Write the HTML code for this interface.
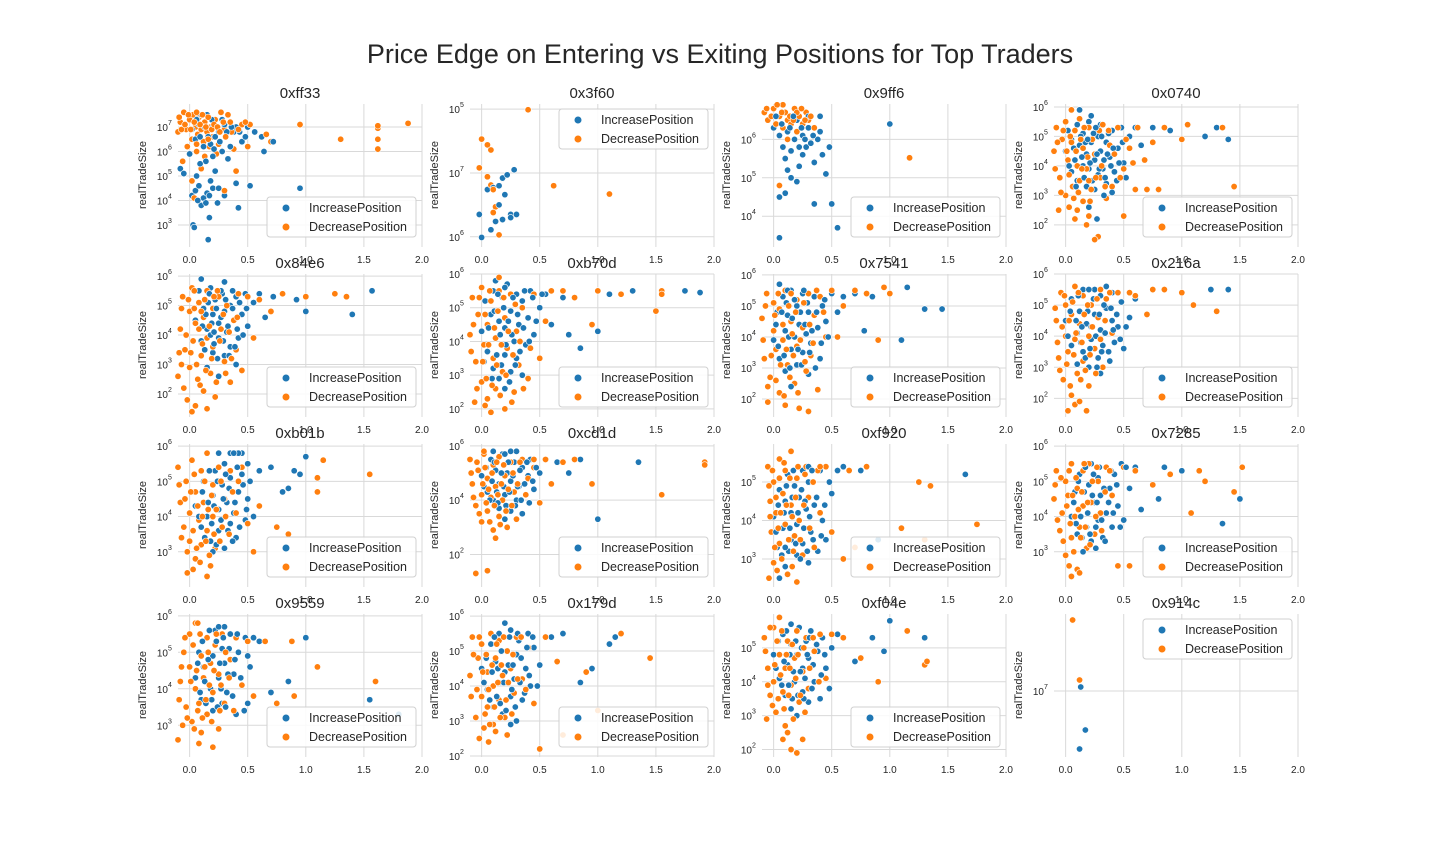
<!DOCTYPE html>
<html><head><meta charset="utf-8"><style>
html,body{margin:0;padding:0;background:#fff;width:1440px;height:864px;overflow:hidden;font-family:"Liberation Sans",Arial,sans-serif}
</style></head><body>
<svg id="fig" width="1440" height="864" viewBox="0 0 1440 864" xmlns="http://www.w3.org/2000/svg">
<rect width="1440" height="864" fill="#fff"/>
<text x="720" y="63" text-anchor="middle" font-size="27" fill="#262626" font-family="Liberation Sans, Arial, sans-serif">Price Edge on Entering vs Exiting Positions for Top Traders</text>
</svg>
<script>
const traders = ["0xff33","0x3f60","0x9ff6","0x0740","0x84e6","0xb70d","0x7541","0x216a","0xb01b","0xcd1d","0xf920","0x7285","0x9559","0x179d","0xf04e","0x914c"];
const yTopLog = [7.94,8.08,6.92,6.1,6.07,6.0,6.03,6.0,6.06,6.07,5.99,6.06,6.05,6.06,6.0,7.385];
const yBottomLog = [2.1,5.84,3.2,1.25,1.22,1.76,1.42,1.4,2.0,0.8,2.27,2.0,2.13,1.97,1.78,6.67];
const yTickVals = [[3,4,5,6,7],[8,7,6],[4,5,6],[2,3,4,5,6],[2,3,4,5,6],[2,3,4,5,6],[2,3,4,5,6],[2,3,4,5,6],[3,4,5,6],[2,4,6],[3,4,5],[3,4,5,6],[3,4,5,6],[2,3,4,5,6],[2,3,4,5],[7]];
const yTickLabels = [["3","4","5","6","7"],["5","7","6"],["4","5","6"],["2","3","4","5","6"],["2","3","4","5","6"],["2","3","4","5","6"],["2","3","4","5","6"],["2","3","4","5","6"],["3","4","5","6"],["2","4","6"],["3","4","5"],["3","4","5","6"],["3","4","5","6"],["2","3","4","5","6"],["2","3","4","5"],["7"]];
const xTicks = [0,0.5,1.0,1.5,2.0];
const xTickLabels = ["0.0","0.5","1.0","1.5","2.0"];
const legendUpper = [false,true,false,false,false,false,false,false,false,false,false,false,false,false,false,true];

const inc01=[[-0.08,5.3],[-0.05,5.1],[0.0,5.9],[0.02,4.2],[0.03,3.0],[0.04,2.9],[0.05,4.4],[0.06,5.0],[0.08,4.6],[0.1,3.8],[0.12,4.1],[0.14,3.9],[0.15,4.3],[0.16,2.4],[0.17,3.3],[0.18,4.8],[0.2,4.5],[0.22,5.2],[0.25,4.5],[0.28,6.0],[0.3,4.2],[0.33,5.7],[0.38,6.8],[0.4,4.7],[0.42,3.7],[0.5,7.0],[0.52,4.6],[0.56,6.8],[0.62,6.6],[0.64,6.0],[0.72,6.4],[0.95,4.5],[0.1,7.5],[0.15,7.5],[0.2,7.0],[0.05,6.5],[0.12,6.2],[0.25,6.8],[0.3,7.1],[0.18,6.3],[0.08,7.1],[0.35,6.2],[0.45,6.4],[0.28,7.3],[0.22,6.6],[0.4,7.0]];
const inc01m=[[0.02,6.9],[0.06,7.3],[0.09,6.6],[0.13,7.0],[0.16,6.6],[0.19,7.3],[0.21,6.1],[0.24,7.0],[0.26,6.4],[0.32,6.8],[0.36,7.0],[0.43,6.8],[0.48,6.6],[0.14,5.6],[0.09,5.5],[0.2,5.8],[0.17,4.2],[0.07,4.0],[0.24,3.9]];
const dec01=[[-0.1,6.8],[-0.08,7.2],[-0.05,7.6],[-0.03,6.9],[0.0,7.3],[0.02,6.5],[0.03,7.5],[0.05,7.0],[0.07,6.7],[0.08,7.4],[0.1,6.9],[0.12,6.4],[0.13,7.2],[0.15,6.8],[0.17,6.2],[0.18,7.0],[0.2,6.6],[0.22,7.3],[0.25,6.3],[0.27,7.6],[0.3,6.9],[0.33,7.5],[0.36,6.8],[0.38,6.1],[0.4,5.2],[0.45,7.1],[0.5,6.2],[0.52,7.1],[0.7,6.4],[0.66,6.7],[0.95,7.1],[1.3,6.5],[1.62,6.1],[1.62,6.5],[1.62,6.95],[1.62,7.05],[1.88,7.15],[-0.06,5.6],[0.04,4.1],[0.02,4.8],[0.13,5.8],[0.1,5.3],[-0.02,6.2],[0.06,6.0],[0.23,5.9],[0.3,4.4]];
const dec01m=[[-0.09,7.4],[-0.07,6.9],[-0.04,7.1],[-0.01,7.5],[0.01,6.9],[0.04,7.2],[0.06,7.6],[0.09,7.1],[0.11,7.5],[0.14,7.0],[0.16,7.4],[0.19,6.9],[0.21,7.1],[0.24,7.0],[0.26,6.8],[0.29,7.2],[0.31,6.6],[0.35,7.2],[0.42,6.9],[0.48,7.2],[0.06,6.3],[0.16,6.5]];
const inc02=[[0.0,5.99],[-0.02,6.35],[0.05,6.74],[0.1,6.77],[0.15,6.8],[0.18,6.92],[0.2,6.66],[0.25,6.35],[0.22,6.97],[0.28,7.05],[0.3,6.35],[0.15,6.5],[0.18,6.27],[0.12,6.24],[0.08,6.11],[0.25,6.3]];
const dec02=[[0.0,7.53],[0.05,6.94],[0.08,6.81],[0.1,6.74],[0.12,6.47],[0.1,6.38],[0.15,6.03],[0.4,7.99],[0.62,6.8],[1.1,6.67],[-0.02,7.08],[0.05,7.44],[0.08,7.36]];
const inc03=[[0.0,6.3],[0.05,6.1],[0.08,5.8],[0.1,5.5],[0.12,6.2],[0.15,5.7],[0.18,6.0],[0.2,6.5],[0.22,5.3],[0.25,6.1],[0.28,5.8],[0.3,6.3],[0.32,5.9],[0.35,5.4],[0.38,6.0],[0.4,6.2],[0.42,5.6],[0.45,5.1],[0.2,4.9],[0.15,5.0],[0.1,4.6],[0.05,4.5],[0.05,3.44],[0.35,4.32],[0.5,4.32],[0.55,3.7],[1.0,6.4],[0.25,5.6],[0.3,6.6],[0.12,5.2],[0.4,6.6],[0.48,5.8]];
const inc03m=[[0.02,6.6],[0.07,6.4],[0.14,6.3],[0.17,6.6],[0.24,6.3],[0.27,6.0],[0.34,6.1],[0.22,5.8]];
const dec03=[[-0.08,6.7],[-0.05,6.5],[-0.02,6.6],[0.0,6.8],[0.02,6.4],[0.05,6.6],[0.08,6.3],[0.1,6.7],[0.12,6.5],[0.15,6.4],[0.18,6.8],[0.2,6.2],[0.22,6.6],[0.25,6.4],[0.28,6.7],[0.3,6.5],[0.35,6.3],[0.05,4.8],[0.12,6.0],[1.17,5.52],[0.08,6.9],[0.2,6.7]];
const dec03m=[[-0.06,6.8],[0.03,6.9],[0.07,6.7],[0.14,6.6],[0.17,6.5],[0.24,6.8],[0.27,6.5],[0.32,6.6]];
const inc04=[[0.0,4.5],[0.02,5.2],[0.05,3.8],[0.05,4.9],[0.08,4.2],[0.1,5.4],[0.1,3.5],[0.12,4.7],[0.15,4.0],[0.15,5.1],[0.18,3.3],[0.18,4.4],[0.2,5.5],[0.2,3.9],[0.22,4.8],[0.25,4.2],[0.25,3.2],[0.28,5.0],[0.28,3.7],[0.3,4.5],[0.3,5.4],[0.32,3.9],[0.35,4.8],[0.35,3.4],[0.38,4.3],[0.4,5.2],[0.42,3.8],[0.45,4.6],[0.48,5.3],[0.5,4.1],[0.55,5.0],[0.6,5.3],[0.65,4.7],[0.75,5.3],[0.9,5.2],[1.2,5.0],[1.3,5.3],[1.4,4.9],[0.27,2.2],[0.2,2.6],[0.12,5.9],[0.4,3.1],[0.22,5.7],[0.33,3.0]];
const inc04m=[[0.03,4.0],[0.07,4.6],[0.09,3.3],[0.13,5.0],[0.16,3.6],[0.17,4.8],[0.21,4.1],[0.23,3.5],[0.24,5.1],[0.27,4.4],[0.29,3.9],[0.31,5.0],[0.33,4.2],[0.34,3.6],[0.37,5.1],[0.39,4.0],[0.41,4.6],[0.44,3.5],[0.46,4.1],[0.49,4.8],[0.52,3.6],[0.26,5.3],[0.14,4.3],[0.19,4.9],[0.36,4.4]];
const dec04=[[-0.1,4.5],[-0.08,5.3],[-0.05,3.6],[-0.03,4.9],[0.0,3.0],[0.0,5.5],[0.02,4.2],[0.03,2.6],[0.05,4.8],[0.06,3.3],[0.08,5.2],[0.08,2.2],[0.1,4.0],[0.12,3.5],[0.12,5.6],[0.15,2.8],[0.15,4.6],[0.18,3.9],[0.2,5.3],[0.2,2.3],[0.22,3.2],[0.25,4.4],[0.28,1.6],[0.3,3.6],[0.32,5.4],[0.35,2.9],[0.38,4.7],[0.4,3.3],[0.45,5.3],[0.5,3.9],[0.55,4.6],[0.6,3.2],[0.62,5.3],[0.68,4.2],[0.7,3.2],[0.75,4.8],[0.8,3.2],[0.85,5.3],[1.0,4.9],[1.05,5.4],[1.35,5.3],[1.45,3.3],[0.05,5.9],[0.25,1.5],[-0.06,2.5],[0.18,2.0],[0.5,2.3]];
const dec04m=[[-0.09,3.9],[-0.07,4.8],[-0.04,3.1],[-0.02,5.2],[0.01,4.5],[0.03,3.7],[0.04,5.0],[0.07,2.9],[0.09,4.5],[0.11,3.1],[0.13,4.9],[0.14,3.9],[0.16,5.3],[0.19,4.3],[0.21,2.8],[0.23,4.9],[0.26,3.6],[0.29,5.2],[0.31,4.0],[0.34,3.3],[0.37,5.2],[0.42,4.4],[0.47,3.6],[0.52,4.9],[0.58,4.1],[0.1,2.5],[0.2,3.5]];
const inc05=[[0.05,4.5],[0.08,5.5],[0.1,3.8],[0.12,4.9],[0.15,4.2],[0.18,5.6],[0.2,3.4],[0.2,4.7],[0.22,5.2],[0.25,3.9],[0.25,4.4],[0.28,5.4],[0.3,3.3],[0.3,4.8],[0.32,4.1],[0.35,5.0],[0.35,3.6],[0.38,4.5],[0.4,5.3],[0.42,3.9],[0.45,4.7],[0.48,5.4],[0.5,4.3],[0.55,5.1],[0.6,5.4],[0.65,4.6],[0.72,5.3],[0.8,5.4],[0.92,5.2],[1.0,4.8],[1.4,4.7],[1.57,5.5],[0.15,2.9],[0.25,2.6],[0.4,3.0],[0.3,5.8],[0.1,5.9],[0.18,4.0]];
const inc05m=[[0.11,4.3],[0.13,3.5],[0.16,5.1],[0.19,4.4],[0.21,3.7],[0.23,4.9],[0.24,3.2],[0.27,4.6],[0.29,3.8],[0.31,5.2],[0.33,4.3],[0.34,3.3],[0.37,4.9],[0.39,3.6],[0.41,4.2],[0.43,5.1],[0.46,4.0],[0.49,4.9],[0.17,5.4],[0.27,5.5],[0.37,5.5],[0.21,4.1],[0.14,4.7]];
const dec05=[[-0.1,2.6],[-0.08,4.2],[-0.06,5.3],[-0.04,3.5],[-0.02,1.8],[0.0,4.8],[0.0,2.9],[0.02,5.6],[0.03,3.8],[0.05,1.6],[0.05,4.4],[0.07,2.5],[0.08,5.1],[0.1,3.3],[0.12,4.6],[0.12,2.1],[0.15,5.5],[0.15,3.9],[0.18,2.7],[0.2,4.9],[0.2,3.6],[0.22,1.9],[0.25,5.3],[0.27,4.2],[0.3,3.1],[0.32,5.0],[0.35,2.4],[0.38,4.5],[0.4,3.5],[0.42,5.4],[0.45,2.8],[0.5,5.3],[0.55,3.9],[0.6,5.2],[0.7,4.8],[0.8,5.4],[1.0,5.3],[1.35,5.3],[1.25,5.4],[0.02,1.4],[0.15,1.5],[-0.07,3.0]];
const dec05m=[[-0.09,3.4],[-0.07,4.9],[-0.05,2.2],[-0.03,4.0],[-0.01,5.2],[0.01,3.4],[0.04,4.9],[0.06,3.0],[0.08,4.2],[0.09,2.3],[0.11,3.7],[0.13,5.2],[0.14,2.8],[0.17,4.3],[0.19,3.2],[0.21,5.3],[0.23,2.4],[0.26,3.8],[0.29,4.7],[0.31,2.7],[0.34,4.1],[0.36,3.2],[0.41,4.6],[0.04,5.5],[0.24,5.5],[0.1,4.8]];
const inc06=[[0.0,4.3],[0.03,5.2],[0.05,3.7],[0.08,4.8],[0.1,3.2],[0.1,5.5],[0.12,4.1],[0.15,4.6],[0.15,2.9],[0.18,5.3],[0.2,3.6],[0.2,4.4],[0.22,5.7],[0.25,3.1],[0.25,4.9],[0.28,4.0],[0.3,5.4],[0.3,3.5],[0.32,4.5],[0.35,5.2],[0.38,3.9],[0.4,4.7],[0.42,5.5],[0.45,4.2],[0.5,5.0],[0.55,5.4],[0.6,4.5],[0.7,5.3],[0.75,4.2],[0.85,3.8],[1.0,4.3],[1.1,5.4],[1.3,5.5],[1.75,5.5],[1.88,5.45],[0.2,2.6],[0.35,3.0],[0.12,5.8]];
const inc06m=[[0.02,3.4],[0.06,4.4],[0.09,2.9],[0.11,4.9],[0.13,3.6],[0.16,4.2],[0.17,3.3],[0.19,5.0],[0.21,3.9],[0.23,4.6],[0.24,2.8],[0.26,4.2],[0.27,5.3],[0.29,3.3],[0.31,4.8],[0.33,3.7],[0.36,4.4],[0.37,5.5],[0.41,4.0],[0.44,5.3],[0.47,4.6],[0.52,5.4],[0.14,5.4],[0.2,5.6]];
const dec06=[[-0.1,4.2],[-0.08,5.3],[-0.05,3.4],[-0.03,4.8],[0.0,2.8],[0.0,5.6],[0.02,3.9],[0.05,4.5],[0.05,2.3],[0.08,5.2],[0.1,3.5],[0.12,4.1],[0.12,2.6],[0.15,5.5],[0.18,3.1],[0.2,4.7],[0.2,2.0],[0.22,3.8],[0.25,5.4],[0.28,2.5],[0.3,4.3],[0.32,3.3],[0.35,5.0],[0.4,2.9],[0.45,5.4],[0.5,3.5],[0.55,4.6],[0.6,5.5],[0.7,5.5],[0.8,5.3],[0.95,4.5],[1.0,5.5],[1.2,5.4],[1.5,4.9],[1.55,5.5],[1.55,5.4],[0.08,1.9],[-0.06,2.2],[0.15,5.9]];
const dec06m=[[-0.09,3.7],[-0.07,4.5],[-0.04,2.6],[-0.02,5.3],[0.01,3.4],[0.03,4.8],[0.04,2.9],[0.06,3.9],[0.07,5.5],[0.09,2.7],[0.11,4.4],[0.13,3.3],[0.14,4.9],[0.16,2.4],[0.17,3.9],[0.19,5.3],[0.21,3.0],[0.23,4.3],[0.26,2.2],[0.27,3.6],[0.29,5.1],[0.33,4.0],[0.36,2.6],[0.42,3.8],[0.03,2.1]];
const inc07=[[0.0,3.9],[0.03,4.8],[0.05,3.3],[0.08,5.3],[0.1,4.2],[0.1,2.9],[0.12,4.7],[0.15,3.6],[0.15,5.5],[0.18,4.0],[0.2,3.1],[0.2,5.0],[0.22,4.4],[0.25,3.5],[0.25,5.4],[0.28,4.1],[0.3,2.8],[0.3,4.8],[0.32,3.8],[0.35,5.3],[0.38,4.3],[0.4,3.3],[0.42,5.0],[0.45,4.5],[0.5,5.4],[0.55,4.8],[0.6,5.3],[0.7,5.4],[0.78,4.2],[0.85,5.3],[1.1,3.9],[1.15,5.6],[1.3,4.9],[1.45,4.9],[0.15,2.4],[0.05,5.7]];
const inc07m=[[0.02,4.4],[0.04,3.7],[0.07,4.8],[0.09,3.4],[0.11,5.1],[0.13,4.0],[0.14,3.0],[0.16,4.6],[0.18,5.2],[0.21,3.6],[0.23,4.8],[0.24,3.1],[0.27,4.4],[0.29,5.1],[0.31,3.5],[0.33,4.2],[0.36,3.0],[0.37,4.8],[0.41,3.8],[0.44,5.2],[0.47,4.0],[0.12,5.5],[0.26,5.5]];
const dec07=[[-0.1,4.6],[-0.08,3.3],[-0.06,5.4],[-0.03,2.7],[0.0,4.2],[0.0,5.1],[0.02,3.6],[0.05,2.2],[0.05,4.9],[0.08,3.9],[0.1,5.5],[0.1,1.8],[0.12,3.1],[0.15,4.5],[0.18,2.5],[0.2,5.2],[0.2,3.7],[0.22,1.7],[0.25,4.3],[0.28,2.9],[0.3,5.4],[0.32,3.4],[0.35,4.7],[0.38,2.3],[0.4,5.3],[0.45,4.0],[0.5,5.5],[0.55,4.0],[0.6,5.0],[0.7,5.5],[0.8,5.4],[0.9,3.9],[0.95,5.6],[1.0,5.4],[-0.05,1.9],[0.3,1.6]];
const dec07m=[[-0.09,3.9],[-0.07,5.0],[-0.05,2.4],[-0.02,3.4],[0.01,4.7],[0.02,2.6],[0.04,5.4],[0.06,3.1],[0.08,4.4],[0.09,2.1],[0.11,3.6],[0.13,5.0],[0.14,2.7],[0.16,4.1],[0.17,3.4],[0.19,4.8],[0.21,2.2],[0.23,3.9],[0.26,5.1],[0.27,3.2],[0.31,4.4],[0.34,3.8],[0.37,5.5],[0.43,4.8],[0.15,5.4]];
const inc08=[[0.0,4.5],[0.05,3.7],[0.05,5.2],[0.1,4.1],[0.1,3.1],[0.12,4.8],[0.15,5.5],[0.15,3.5],[0.18,4.4],[0.2,3.0],[0.2,5.0],[0.22,3.9],[0.25,4.7],[0.25,5.5],[0.28,3.3],[0.3,4.2],[0.3,5.3],[0.32,3.7],[0.35,4.9],[0.38,3.2],[0.4,4.5],[0.4,5.4],[0.42,3.8],[0.45,4.3],[0.48,5.1],[0.5,3.6],[0.55,4.6],[0.6,5.2],[1.25,5.5],[1.4,5.5],[0.3,2.8],[0.35,5.6]];
const inc08m=[[0.02,4.0],[0.04,4.8],[0.07,3.4],[0.09,4.5],[0.11,5.3],[0.13,3.8],[0.14,4.3],[0.17,3.3],[0.19,4.8],[0.21,3.6],[0.22,4.3],[0.24,5.2],[0.26,4.0],[0.27,3.0],[0.29,4.7],[0.31,3.5],[0.33,5.0],[0.34,4.1],[0.37,3.5],[0.39,4.9],[0.41,4.2],[0.44,4.7],[0.47,3.9],[0.52,4.3],[0.2,5.5]];
const dec08=[[-0.08,4.5],[-0.06,3.3],[-0.04,5.4],[-0.02,2.6],[0.0,4.0],[0.0,5.0],[0.02,3.5],[0.05,2.1],[0.05,4.7],[0.08,3.9],[0.08,5.6],[0.1,2.8],[0.12,4.4],[0.15,3.2],[0.15,5.3],[0.18,1.6],[0.2,4.0],[0.2,2.4],[0.22,5.0],[0.25,3.6],[0.28,4.6],[0.3,5.5],[0.32,3.0],[0.35,5.2],[0.4,4.1],[0.45,5.4],[0.55,5.4],[0.6,5.3],[0.7,4.7],[0.75,5.5],[0.85,5.5],[1.0,5.4],[1.1,5.0],[1.3,4.8],[0.08,1.8],[0.02,1.6]];
const dec08m=[[-0.09,4.9],[-0.07,3.8],[-0.05,2.9],[-0.03,4.3],[-0.01,5.3],[0.01,3.1],[0.03,4.5],[0.04,2.4],[0.06,5.1],[0.07,3.4],[0.09,4.1],[0.11,5.4],[0.13,2.6],[0.14,3.8],[0.16,4.7],[0.17,2.9],[0.19,5.0],[0.21,3.4],[0.23,4.3],[0.26,2.8],[0.27,5.2],[0.3,3.9],[0.34,4.5],[0.38,5.4],[0.12,1.9]];
const inc09=[[0.05,4.3],[0.1,3.7],[0.12,5.0],[0.15,4.0],[0.18,3.3],[0.2,4.6],[0.22,5.3],[0.25,3.6],[0.25,4.2],[0.28,4.9],[0.3,3.1],[0.3,5.5],[0.32,4.4],[0.35,3.8],[0.35,5.1],[0.38,4.1],[0.4,5.8],[0.4,3.4],[0.42,4.7],[0.45,5.2],[0.48,3.9],[0.5,4.5],[0.5,5.5],[0.55,4.0],[0.6,5.3],[0.7,5.4],[0.8,4.7],[0.85,4.8],[0.9,5.3],[0.95,5.2],[1.0,5.7],[0.2,3.0],[0.35,5.8],[0.45,5.8]];
const inc09m=[[0.08,4.0],[0.11,4.7],[0.13,3.4],[0.16,4.4],[0.17,5.3],[0.19,3.8],[0.21,4.3],[0.23,3.2],[0.24,5.0],[0.27,3.9],[0.29,4.5],[0.31,5.2],[0.33,3.6],[0.34,4.8],[0.37,3.3],[0.39,4.4],[0.41,5.4],[0.43,3.7],[0.46,4.9],[0.49,4.2],[0.52,5.0],[0.42,5.8],[0.38,5.8],[0.25,5.8]];
const dec09=[[-0.1,5.4],[-0.08,4.4],[-0.05,3.7],[-0.03,5.0],[0.0,4.1],[0.0,3.3],[0.02,5.6],[0.05,4.7],[0.05,2.8],[0.08,3.9],[0.1,5.3],[0.1,3.2],[0.12,4.4],[0.15,3.6],[0.15,5.8],[0.18,2.6],[0.2,4.9],[0.2,4.0],[0.22,3.1],[0.25,5.4],[0.28,3.7],[0.3,4.5],[0.35,5.3],[0.4,4.1],[0.45,5.4],[0.5,3.8],[0.6,4.3],[0.75,3.7],[0.85,3.5],[1.1,5.1],[1.1,4.7],[1.15,5.6],[1.55,5.2],[-0.02,2.4],[0.15,2.3],[0.55,3.0]];
const dec09m=[[-0.09,4.9],[-0.07,3.4],[-0.04,4.5],[-0.02,3.0],[0.01,4.7],[0.03,3.6],[0.04,5.2],[0.06,3.1],[0.07,4.3],[0.09,2.7],[0.11,4.0],[0.13,5.0],[0.14,3.3],[0.16,4.2],[0.17,2.9],[0.19,4.6],[0.21,3.5],[0.23,4.2],[0.26,3.3],[0.27,5.0],[0.31,4.0],[0.34,3.5],[0.37,4.7],[0.42,5.0],[0.03,2.5]];
const inc10=[[0.0,4.9],[0.05,4.3],[0.08,5.5],[0.1,4.0],[0.12,5.1],[0.15,3.7],[0.15,4.6],[0.18,5.7],[0.2,4.2],[0.22,5.0],[0.25,3.6],[0.25,4.7],[0.28,5.4],[0.3,4.0],[0.3,5.8],[0.32,4.5],[0.35,3.5],[0.35,5.2],[0.38,4.2],[0.4,4.9],[0.42,5.5],[0.45,4.4],[0.5,5.0],[0.55,5.5],[0.65,5.4],[0.75,5.0],[0.85,5.5],[1.0,3.3],[1.35,5.4],[0.2,3.3],[0.1,5.8]];
const inc10m=[[0.02,4.5],[0.04,5.2],[0.07,4.0],[0.09,4.7],[0.11,5.4],[0.13,4.3],[0.14,3.9],[0.17,5.0],[0.19,4.5],[0.21,3.8],[0.23,5.4],[0.24,4.3],[0.27,4.9],[0.29,3.8],[0.31,4.5],[0.33,5.1],[0.34,4.0],[0.37,4.6],[0.39,5.4],[0.41,3.9],[0.44,4.7],[0.47,5.2],[0.25,5.8],[0.2,5.7]];
const dec10=[[-0.1,5.5],[-0.08,4.6],[-0.05,3.8],[-0.03,5.1],[0.0,4.2],[0.0,3.2],[0.02,5.7],[0.05,4.8],[0.05,3.6],[0.08,4.1],[0.1,5.3],[0.1,2.9],[0.12,4.5],[0.15,3.4],[0.15,5.6],[0.18,4.0],[0.2,4.9],[0.22,3.0],[0.25,5.4],[0.28,4.3],[0.3,3.3],[0.35,5.5],[0.4,4.8],[0.45,5.2],[0.5,3.9],[0.55,5.5],[0.6,4.6],[0.7,5.4],[0.8,5.5],[0.95,4.6],[1.55,4.2],[1.92,5.4],[1.92,5.3],[0.05,1.4],[-0.05,1.3],[0.12,2.6]];
const dec10m=[[-0.09,5.0],[-0.07,4.1],[-0.04,5.4],[-0.02,3.5],[0.01,4.6],[0.03,5.2],[0.04,3.9],[0.06,4.4],[0.07,3.2],[0.09,5.0],[0.11,3.8],[0.13,5.4],[0.14,4.2],[0.16,3.1],[0.17,4.6],[0.19,5.3],[0.21,3.6],[0.23,4.4],[0.26,3.8],[0.27,5.0],[0.31,4.6],[0.33,5.4],[0.38,4.2],[0.45,5.5],[0.02,5.8]];
const inc11=[[0.0,4.1],[0.03,3.3],[0.05,4.8],[0.08,3.8],[0.1,2.8],[0.1,4.5],[0.12,5.2],[0.15,3.5],[0.15,4.2],[0.18,4.9],[0.2,3.1],[0.2,3.9],[0.22,4.6],[0.25,5.3],[0.25,3.4],[0.28,4.3],[0.3,2.9],[0.3,5.0],[0.32,3.7],[0.35,4.4],[0.38,3.2],[0.4,5.3],[0.42,4.0],[0.45,3.5],[0.5,4.7],[0.55,5.3],[0.6,5.4],[0.75,5.3],[0.9,3.5],[1.65,5.2],[0.05,2.5],[0.3,5.4]];
const inc11m=[[0.02,3.7],[0.04,4.4],[0.07,3.1],[0.09,4.2],[0.11,4.9],[0.13,3.2],[0.14,3.8],[0.16,4.6],[0.17,5.3],[0.19,3.4],[0.21,4.2],[0.23,3.0],[0.24,4.8],[0.26,3.8],[0.27,4.5],[0.29,3.2],[0.31,4.1],[0.33,5.3],[0.34,3.5],[0.37,4.6],[0.41,3.6],[0.44,4.4],[0.48,5.0],[0.1,3.3]];
const dec11=[[-0.05,5.4],[-0.03,4.5],[-0.02,3.7],[0.0,5.0],[0.0,2.9],[0.02,4.2],[0.05,5.6],[0.05,3.4],[0.08,4.7],[0.1,3.9],[0.1,5.3],[0.12,2.6],[0.15,4.4],[0.15,5.8],[0.18,3.6],[0.2,5.1],[0.22,4.0],[0.25,3.1],[0.28,5.4],[0.3,4.6],[0.35,3.3],[0.38,5.3],[0.4,4.2],[0.45,5.4],[0.5,3.7],[0.6,3.0],[0.65,5.3],[0.7,3.3],[0.8,5.4],[1.1,3.8],[1.25,5.0],[1.3,3.5],[1.35,4.9],[1.75,3.9],[-0.04,2.5],[0.2,2.4]];
const dec11m=[[-0.04,4.9],[-0.03,4.1],[-0.01,5.3],[0.01,3.3],[0.02,4.6],[0.04,3.8],[0.05,5.1],[0.06,4.2],[0.07,3.0],[0.09,5.5],[0.11,4.4],[0.13,3.5],[0.14,5.1],[0.16,4.1],[0.17,3.2],[0.19,4.6],[0.21,5.4],[0.23,3.5],[0.26,4.4],[0.27,5.2],[0.31,3.8],[0.34,5.0],[0.4,5.4],[0.03,2.7],[0.16,2.8]];
const inc12=[[0.05,4.0],[0.08,4.7],[0.1,3.5],[0.12,5.2],[0.15,4.3],[0.18,3.7],[0.2,4.9],[0.22,5.5],[0.22,3.3],[0.25,4.4],[0.28,3.9],[0.28,5.1],[0.3,4.6],[0.32,3.4],[0.35,5.4],[0.35,4.1],[0.38,4.8],[0.4,3.7],[0.42,5.2],[0.45,4.3],[0.48,5.5],[0.5,3.9],[0.55,4.8],[0.6,5.4],[0.65,4.2],[0.8,4.5],[0.85,5.4],[1.0,5.3],[1.35,3.8],[1.5,4.5],[0.15,3.0]];
const inc12m=[[0.07,4.4],[0.09,3.8],[0.11,5.0],[0.13,4.0],[0.14,3.4],[0.16,4.7],[0.17,5.4],[0.19,4.1],[0.21,3.5],[0.23,4.6],[0.24,5.2],[0.26,3.7],[0.27,4.4],[0.29,5.4],[0.31,3.9],[0.33,4.8],[0.34,3.3],[0.37,4.4],[0.39,5.3],[0.41,4.1],[0.44,4.9],[0.47,3.7],[0.52,5.4],[0.26,3.1]];
const dec12=[[-0.1,4.5],[-0.08,5.3],[-0.05,3.6],[-0.03,4.1],[0.0,5.0],[0.0,2.9],[0.02,4.6],[0.05,3.4],[0.05,5.5],[0.08,4.0],[0.1,2.5],[0.1,4.8],[0.12,3.7],[0.15,5.3],[0.15,4.3],[0.18,3.1],[0.2,5.5],[0.22,4.4],[0.25,3.5],[0.28,5.0],[0.3,4.1],[0.35,5.4],[0.4,4.6],[0.45,2.6],[0.5,5.4],[0.55,2.6],[0.6,5.3],[0.75,4.9],[0.9,5.2],[1.08,4.1],[1.15,5.3],[1.2,5.0],[1.45,4.7],[1.52,5.4],[0.05,2.3],[0.12,2.4]];
const dec12m=[[-0.09,4.9],[-0.07,3.9],[-0.04,5.1],[-0.02,3.3],[0.01,4.3],[0.03,5.3],[0.04,3.8],[0.06,4.6],[0.07,3.0],[0.09,5.1],[0.11,4.2],[0.13,3.4],[0.14,4.7],[0.16,5.5],[0.17,3.7],[0.19,4.4],[0.21,3.2],[0.23,5.0],[0.26,4.0],[0.27,5.4],[0.31,3.6],[0.34,4.7],[0.38,5.3],[0.03,2.6]];
const inc13=[[0.05,4.3],[0.08,5.0],[0.1,3.7],[0.12,4.6],[0.15,5.4],[0.18,4.0],[0.2,3.4],[0.2,4.9],[0.22,5.6],[0.25,4.3],[0.28,3.6],[0.28,5.1],[0.3,4.7],[0.32,3.9],[0.35,5.5],[0.38,4.4],[0.4,3.3],[0.42,5.0],[0.45,4.1],[0.48,5.4],[0.5,3.6],[0.52,4.6],[0.55,5.4],[0.6,5.3],[0.7,3.9],[0.85,4.2],[1.0,5.4],[1.55,3.7],[1.8,3.3],[0.3,5.7]];
const inc13m=[[0.07,4.7],[0.09,3.9],[0.11,5.3],[0.13,4.2],[0.14,3.6],[0.16,4.8],[0.17,5.6],[0.19,3.7],[0.21,4.5],[0.23,5.3],[0.24,3.5],[0.26,4.7],[0.27,4.0],[0.29,5.4],[0.31,3.5],[0.33,4.4],[0.34,5.1],[0.37,3.8],[0.39,4.8],[0.41,5.5],[0.44,4.3],[0.47,3.4],[0.5,4.9],[0.25,5.7]];
const dec13=[[-0.1,2.6],[-0.08,4.2],[-0.05,5.0],[-0.03,3.5],[0.0,4.6],[0.0,5.5],[0.02,3.1],[0.05,4.0],[0.05,5.8],[0.08,3.6],[0.1,4.9],[0.1,2.8],[0.12,4.3],[0.15,5.4],[0.15,3.3],[0.18,4.7],[0.2,3.9],[0.22,5.2],[0.25,2.9],[0.25,4.4],[0.28,5.5],[0.3,3.6],[0.35,4.8],[0.4,5.4],[0.45,4.1],[0.5,5.3],[0.55,3.8],[0.65,5.3],[0.75,3.6],[0.88,5.3],[0.9,3.8],[1.1,4.6],[1.6,4.2],[0.08,2.5],[0.2,2.4],[-0.06,3.0]];
const dec13m=[[-0.09,3.7],[-0.07,4.6],[-0.04,5.4],[-0.02,3.2],[0.01,4.2],[0.03,5.2],[0.04,2.9],[0.06,4.5],[0.07,3.4],[0.09,5.5],[0.11,3.2],[0.13,4.6],[0.14,3.7],[0.16,5.0],[0.17,4.1],[0.19,3.1],[0.21,4.5],[0.23,5.5],[0.26,3.4],[0.27,4.1],[0.31,5.0],[0.34,4.3],[0.38,3.4],[0.07,5.8]];
const inc14=[[0.0,4.5],[0.05,3.9],[0.08,5.2],[0.1,3.4],[0.12,4.7],[0.15,4.1],[0.15,5.5],[0.18,3.2],[0.2,4.4],[0.22,5.0],[0.25,3.7],[0.25,5.6],[0.28,4.2],[0.3,3.0],[0.3,4.9],[0.32,5.3],[0.35,3.6],[0.38,4.5],[0.4,5.5],[0.42,4.0],[0.45,5.1],[0.5,4.6],[0.55,5.4],[0.6,5.4],[0.7,5.5],[0.85,4.1],[0.95,4.5],[1.1,5.2],[1.15,5.4],[0.2,5.8]];
const inc14m=[[0.02,4.1],[0.04,4.8],[0.07,3.6],[0.09,4.4],[0.11,5.4],[0.13,3.7],[0.14,4.5],[0.16,3.5],[0.17,5.0],[0.19,4.1],[0.21,3.3],[0.23,4.6],[0.24,5.4],[0.26,3.9],[0.27,4.6],[0.29,3.4],[0.31,5.5],[0.33,4.1],[0.34,4.8],[0.37,3.8],[0.39,5.1],[0.41,4.3],[0.44,5.4],[0.48,4.0],[0.25,2.9]];
const dec14=[[-0.1,4.3],[-0.08,5.4],[-0.05,3.1],[-0.03,4.8],[0.0,3.7],[0.0,5.2],[0.02,2.8],[0.05,4.4],[0.05,3.4],[0.08,5.5],[0.1,4.0],[0.1,2.9],[0.12,4.8],[0.15,3.6],[0.15,5.3],[0.18,4.3],[0.2,3.1],[0.22,5.0],[0.22,2.6],[0.25,4.5],[0.28,3.8],[0.3,5.4],[0.35,4.2],[0.4,5.1],[0.45,3.5],[0.5,2.2],[0.55,5.4],[0.65,4.7],[0.7,2.6],[0.9,4.4],[1.0,3.3],[1.2,5.5],[1.45,4.8],[-0.02,2.5],[0.12,2.7]];
const dec14m=[[-0.09,3.7],[-0.07,4.9],[-0.04,3.9],[-0.02,5.4],[0.01,4.4],[0.03,3.2],[0.04,4.9],[0.06,3.9],[0.07,2.9],[0.09,4.6],[0.11,3.4],[0.13,5.2],[0.14,4.1],[0.16,3.1],[0.17,4.6],[0.19,5.4],[0.21,3.6],[0.23,4.1],[0.26,3.2],[0.27,4.9],[0.31,4.2],[0.34,5.4],[0.38,3.9],[0.06,2.4]];
const inc15=[[0.0,4.8],[0.05,4.1],[0.08,5.4],[0.1,3.6],[0.12,4.5],[0.15,5.1],[0.15,3.2],[0.18,4.0],[0.2,4.8],[0.22,5.6],[0.25,3.7],[0.25,4.4],[0.28,5.2],[0.3,3.4],[0.3,4.7],[0.32,5.5],[0.35,4.0],[0.38,4.9],[0.4,3.5],[0.42,5.3],[0.45,4.4],[0.5,5.0],[0.55,5.4],[0.6,5.3],[0.7,4.6],[0.85,5.3],[0.95,4.9],[1.0,5.8],[1.3,5.3],[0.2,3.0]];
const inc15m=[[0.02,4.4],[0.04,5.2],[0.07,3.9],[0.09,4.6],[0.11,5.5],[0.13,3.9],[0.14,4.8],[0.16,3.5],[0.17,4.3],[0.19,5.2],[0.21,3.6],[0.23,4.3],[0.24,5.0],[0.26,3.5],[0.27,4.1],[0.29,4.8],[0.31,5.3],[0.33,3.8],[0.34,4.5],[0.37,5.1],[0.41,4.2],[0.44,4.8],[0.48,3.8],[0.15,5.7]];
const dec15=[[-0.08,5.3],[-0.05,4.4],[-0.03,3.6],[0.0,5.6],[0.0,4.0],[0.02,3.1],[0.05,4.8],[0.05,5.9],[0.08,3.7],[0.1,4.4],[0.1,2.7],[0.12,5.2],[0.12,2.5],[0.15,3.9],[0.15,2.0],[0.18,4.7],[0.2,5.5],[0.2,1.9],[0.22,3.4],[0.25,4.3],[0.28,5.3],[0.3,3.8],[0.35,4.9],[0.4,5.4],[0.45,4.1],[0.5,5.4],[0.6,5.3],[0.75,4.7],[0.9,4.0],[1.15,5.5],[1.3,4.5],[1.32,4.6],[-0.06,2.9],[0.25,2.3]];
const dec15m=[[-0.07,4.9],[-0.05,3.9],[-0.03,5.6],[-0.01,3.3],[0.01,4.5],[0.03,5.2],[0.04,3.5],[0.06,4.2],[0.07,5.5],[0.09,3.2],[0.11,4.8],[0.13,3.6],[0.14,4.4],[0.16,5.1],[0.17,2.9],[0.19,4.1],[0.21,4.8],[0.23,3.6],[0.26,5.0],[0.27,3.1],[0.31,4.4],[0.34,5.3],[0.39,4.0],[0.08,2.3]];
const inc16=[[0.13,7.02],[0.17,6.805],[0.12,6.71]];
const dec16=[[0.06,7.355],[0.12,7.055]];
const incSeries=[inc01.concat(inc01m),inc02,inc03.concat(inc03m),inc04.concat(inc04m),inc05.concat(inc05m),inc06.concat(inc06m),inc07.concat(inc07m),inc08.concat(inc08m),inc09.concat(inc09m),inc10.concat(inc10m),inc11.concat(inc11m),inc12.concat(inc12m),inc13.concat(inc13m),inc14.concat(inc14m),inc15.concat(inc15m),inc16];
const decSeries=[dec01.concat(dec01m),dec02,dec03.concat(dec03m),dec04.concat(dec04m),dec05.concat(dec05m),dec06.concat(dec06m),dec07.concat(dec07m),dec08.concat(dec08m),dec09.concat(dec09m),dec10.concat(dec10m),dec11.concat(dec11m),dec12.concat(dec12m),dec13.concat(dec13m),dec14.concat(dec14m),dec15.concat(dec15m),dec16];

const NS="http://www.w3.org/2000/svg";
const svg=document.getElementById('fig');
const BLUE="#1f77b4", ORANGE="#ff7f0e";
function mk(tag,attrs,parent){const e=document.createElementNS(NS,tag);for(const k in attrs)e.setAttribute(k,attrs[k]);(parent||svg).appendChild(e);return e;}
const XMIN=-0.1,XMAX=2.0;
for(let i=0;i<16;i++){
  const col=i%4,row=Math.floor(i/4);
  const L=178+col*292,R=L+244,T=104+row*170,B=T+143;
  const g=mk('g',{});
  
  
  const xs=v=>L+(v-XMIN)/(XMAX-XMIN)*(R-L);
  const ys=v=>T+(yTopLog[i]-v)/(yTopLog[i]-yBottomLog[i])*(B-T);
  xTicks.forEach((t,k)=>{
    const ln=mk('line',{x1:xs(t),x2:xs(t),y1:T,y2:B,stroke:"#d9d9d9","stroke-width":1},g);
    
    
    const tx=mk('text',{x:xs(t),y:B+16,"text-anchor":"middle","font-size":10,fill:"#262626"},g);
    
    
    tx.textContent=xTickLabels[k];
  });
  yTickVals[i].forEach((t,k)=>{
    const y=ys(t);
    const ln=mk('line',{x1:L,x2:R,y1:y,y2:y,stroke:"#d9d9d9","stroke-width":1},g);
    
    
    const tx=mk('text',{x:L-10,y:y+4,"text-anchor":"end","font-size":10,fill:"#262626"},g);
    
    
    tx.textContent="10";
    const sp=mk('text',{x:L-10,y:y-2,"text-anchor":"start","font-size":7,fill:"#262626"},g);
    
    
    sp.textContent=yTickLabels[i][k];
  });
  const yl=mk('text',{x:0,y:0,"text-anchor":"middle","font-size":11,fill:"#262626",transform:`translate(${L-32},${T+71}) rotate(-90)`},g);
  
  
  yl.textContent="realTradeSize";
  const inc=incSeries[i],dec=decSeries[i];
  const n=Math.max(inc.length,dec.length);
  for(let k=0;k<n;k++){
    if(k<inc.length){const c=mk('circle',{cx:xs(inc[k][0]),cy:ys(inc[k][1]),r:3.2,fill:BLUE,stroke:"#fff","stroke-width":0.6},g);
      
      }
    if(k<dec.length){const c=mk('circle',{cx:xs(dec[k][0]),cy:ys(dec[k][1]),r:3.2,fill:ORANGE,stroke:"#fff","stroke-width":0.6},g);
      
      }
  }
  const tt=mk('text',{x:(L+R)/2,y:T-6,"text-anchor":"middle","font-size":15,fill:"#262626"},g);
  
  
  tt.textContent=traders[i];
  const lx=L+89,ly=legendUpper[i]?T+5:T+93;
  const lg=mk('g',{},g);
  
  
  mk('rect',{x:lx,y:ly,width:149,height:40,rx:3,fill:"#fff","fill-opacity":0.85,stroke:"#d0d0d0"},lg);
  [["IncreasePosition",BLUE],["DecreasePosition",ORANGE]].forEach((e,k)=>{
    const ent=mk('g',{},lg);
    
    
    mk('circle',{cx:lx+19,cy:ly+11+k*19,r:3.8,fill:e[1],stroke:"#fff","stroke-width":0.6},ent);
    const t=mk('text',{x:lx+42,y:ly+15+k*19,"font-size":12.5,fill:"#262626"},ent);
    t.textContent=e[0];
  });
}
</script>
</body></html>
